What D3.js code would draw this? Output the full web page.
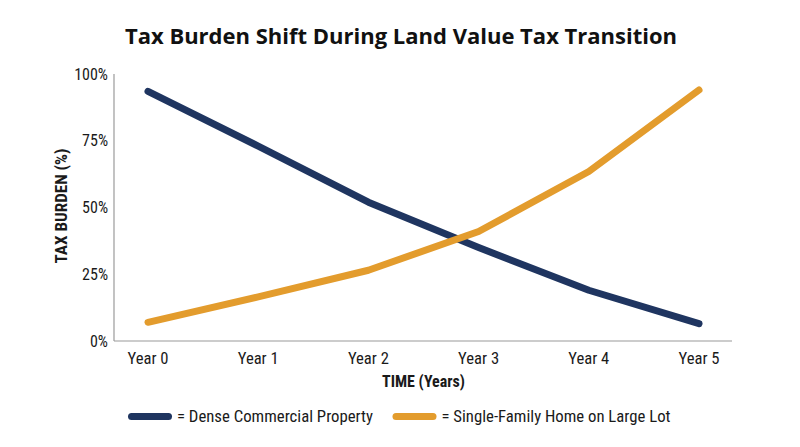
<!DOCTYPE html>
<html>
<head>
<meta charset="utf-8">
<script src="https://cdn.jsdelivr.net/npm/d3@7"></script>
<style>
  body { margin: 0; background: #fff; }
  text { font-family: "Liberation Sans Narrow", "Roboto Condensed", Roboto, sans-serif; fill: #1a1a1a; }
</style>
</head>
<body>
<div class="canvas"></div>
<script>
// data
const years = ['Year 0', 'Year 1', 'Year 2', 'Year 3', 'Year 4', 'Year 5'];
const commercial = [93.5, 73, 52, 35, 19, 6.5];
const singleFamily = [7, 16.5, 26.5, 41, 63.5, 94];
const yTicks = [0, 25, 50, 75, 100];

const navy = '#1f3560';
const orange = '#e39c2d';

const svg = d3.select('.canvas')
  .append('svg')
    .attr('width', 800)
    .attr('height', 447);

const x = d3.scalePoint()
  .domain(years)
  .range([148, 699]);

const y = d3.scaleLinear()
  .domain([0, 100])
  .range([341, 74]);

// title
svg.append('text')
  .attr('x', 401)
  .attr('y', 44)
  .attr('text-anchor', 'middle')
  .style('font-family', '"Open Sans", sans-serif')
  .style('font-size', '22px')
  .style('font-weight', 'bold')
  .style('fill', '#111')
  .text('Tax Burden Shift During Land Value Tax Transition');

// axis lines
svg.append('line')
  .attr('x1', 114).attr('x2', 114)
  .attr('y1', y(100)).attr('y2', y(0))
  .attr('stroke', '#9a9a9a').attr('stroke-width', 1.2);

svg.append('line')
  .attr('x1', 114).attr('x2', 732)
  .attr('y1', y(0)).attr('y2', y(0))
  .attr('stroke', '#9a9a9a').attr('stroke-width', 1.2);

// y tick labels
svg.selectAll('.ytick')
  .data(yTicks)
  .enter()
  .append('text')
    .attr('class', 'ytick')
    .attr('x', 108)
    .attr('y', d => y(d))
    .attr('dy', '0.35em')
    .attr('text-anchor', 'end')
    .style('font-size', '16px')
    .text(d => d + '%');

// x tick labels
svg.selectAll('.xtick')
  .data(years)
  .enter()
  .append('text')
    .attr('class', 'xtick')
    .attr('x', d => x(d))
    .attr('y', 364)
    .attr('text-anchor', 'middle')
    .attr('textLength', 41)
    .attr('lengthAdjust', 'spacingAndGlyphs')
    .style('font-size', '16px')
    .text(d => d);

// axis titles
svg.append('text')
  .attr('x', 423.5)
  .attr('y', 387)
  .attr('text-anchor', 'middle')
  .attr('textLength', 83)
  .attr('lengthAdjust', 'spacingAndGlyphs')
  .style('font-size', '17px')
  .style('font-weight', 'bold')
  .text('TIME (Years)');

svg.append('text')
  .attr('transform', 'translate(67,206) rotate(-90)')
  .attr('text-anchor', 'middle')
  .attr('textLength', 115)
  .attr('lengthAdjust', 'spacingAndGlyphs')
  .style('font-size', '16px')
  .style('font-weight', 'bold')
  .text('TAX BURDEN (%)');

// lines
const line = d3.line()
  .x((d, i) => x(years[i]))
  .y(d => y(d));

const series = [
  { values: commercial, color: navy },
  { values: singleFamily, color: orange }
];

svg.selectAll('.series')
  .data(series)
  .enter()
  .append('path')
    .attr('class', 'series')
    .attr('d', d => line(d.values))
    .attr('fill', 'none')
    .attr('stroke', d => d.color)
    .attr('stroke-width', 7)
    .attr('stroke-linecap', 'round')
    .attr('stroke-linejoin', 'round');

// legend
const legend = [
  { label: '= Dense Commercial Property', color: navy, x: 131.5, w: 196 },
  { label: '= Single-Family Home on Large Lot', color: orange, x: 396, w: 229 }
];

const items = svg.selectAll('.legend')
  .data(legend)
  .enter()
  .append('g')
    .attr('class', 'legend')
    .attr('transform', d => `translate(${d.x},416.5)`);

items.append('line')
  .attr('x1', 0).attr('x2', 37)
  .attr('y1', 0).attr('y2', 0)
  .attr('stroke', d => d.color)
  .attr('stroke-width', 7)
  .attr('stroke-linecap', 'round');

items.append('text')
  .attr('x', 45.5)
  .attr('dy', '0.35em')
  .attr('textLength', d => d.w)
  .attr('lengthAdjust', 'spacingAndGlyphs')
  .style('font-size', '17px')
  .text(d => d.label);
</script>
</body>
</html>
